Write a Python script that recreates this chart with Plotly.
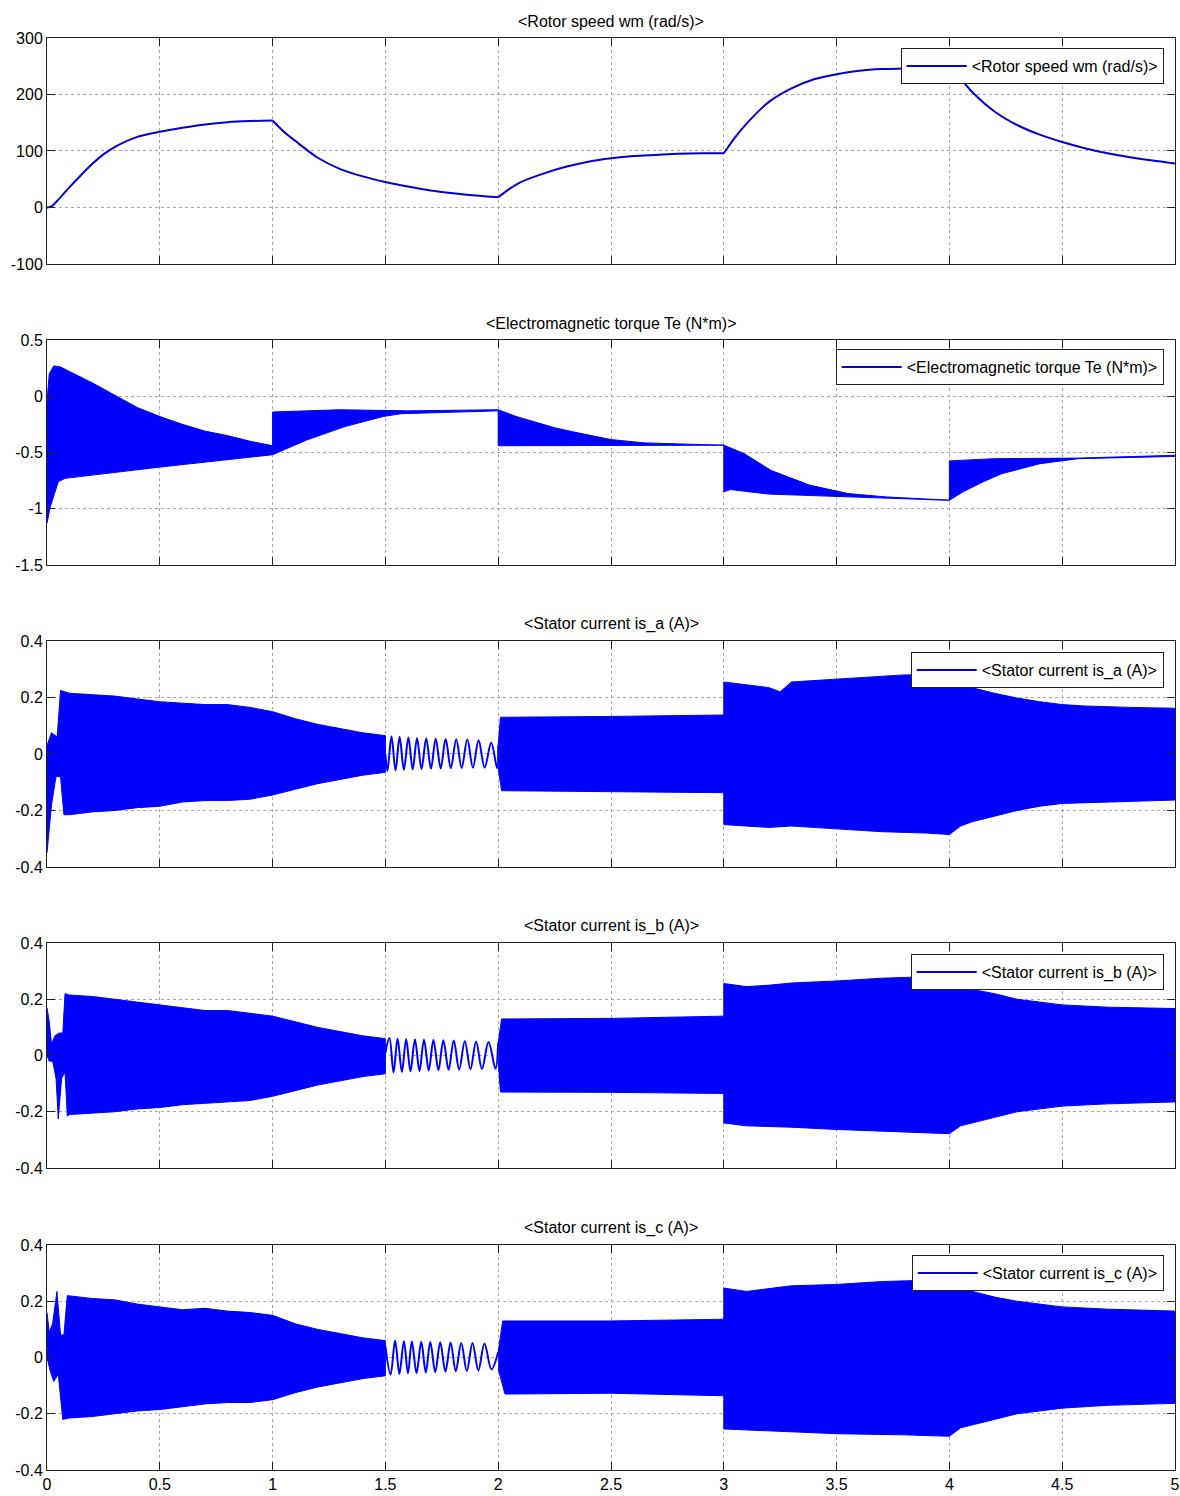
import plotly.graph_objects as go

# ---------------- data ----------------
x_ticks = [0, 0.5, 1, 1.5, 2, 2.5, 3, 3.5, 4, 4.5, 5]
x_tick_text = ["0", "0.5", "1", "1.5", "2", "2.5", "3", "3.5", "4", "4.5", "5"]

speed_ticks = [-100, 0, 100, 200, 300]
speed_tick_text = ["-100", "0", "100", "200", "300"]
torque_ticks = [-1.5, -1, -0.5, 0, 0.5]
torque_tick_text = ["-1.5", "-1", "-0.5", "0", "0.5"]
current_ticks = [-0.4, -0.2, 0, 0.2, 0.4]
current_tick_text = ["-0.4", "-0.2", "0", "0.2", "0.4"]

titles = ["<Rotor speed wm (rad/s)>", "<Electromagnetic torque Te (N*m)>",
          "<Stator current is_a (A)>", "<Stator current is_b (A)>", "<Stator current is_c (A)>"]

# load-step instants (where the rotor speed curve has corners)
step_times = [1.0, 2.0, 3.0, 4.0]

# Rotor speed
speed_t = [0, 0.02, 0.05, 0.1, 0.2, 0.25, 0.3, 0.4, 0.5, 0.6, 0.7, 0.8, 0.9, 1.0, 1.05, 1.1, 1.2, 1.3, 1.4, 1.5,
           1.6, 1.7, 1.8, 1.9, 2.0, 2.05, 2.1, 2.2, 2.3, 2.4, 2.5, 2.6, 2.7, 2.8, 2.9, 3.0, 3.05, 3.1, 3.2,
           3.3, 3.4, 3.5, 3.6, 3.7, 3.8, 3.9, 4.0, 4.05, 4.1, 4.2, 4.3, 4.4, 4.5, 4.6, 4.7, 4.8, 4.9, 5.0]
speed_v = [0, 2, 14, 36, 77, 94, 107, 125, 134, 141, 147, 151, 153, 154, 134, 118, 88, 68, 55, 45,
           37, 30, 25, 21, 18, 33, 45, 60, 72, 81, 87, 91, 93, 95, 96, 96, 124, 148, 187,
           211, 227, 236, 242, 245, 246, 247, 247, 228, 205, 170, 146, 129, 116, 105, 96, 89, 83, 78]

# Electromagnetic torque: upper / lower envelope of the dense band
tq_up_t = [0, 0.01, 0.03, 0.06, 0.1, 0.2, 0.3, 0.4, 0.5, 0.6, 0.7, 0.8, 0.9, 1.0, 1.0, 1.3, 1.6, 2.0,
           2.08, 2.17, 2.25, 2.34, 2.5, 2.65, 3.0, 3.09, 3.21, 3.38, 3.55, 3.72, 4.0, 4.0, 4.2, 4.57, 5.0]
tq_up_v = [-0.05, 0.2, 0.27, 0.26, 0.22, 0.12, 0.01, -0.1, -0.18, -0.25, -0.31, -0.35, -0.4, -0.44,
           -0.14, -0.12, -0.13, -0.12, -0.18, -0.23, -0.28, -0.32, -0.385, -0.415, -0.435, -0.51,
           -0.66, -0.79, -0.865, -0.895, -0.924, -0.575, -0.555, -0.55, -0.525]
tq_lo_t = [0, 0.015, 0.03, 0.05, 0.08, 0.5, 1.0, 1.15, 1.32, 1.49, 1.57, 2.0, 2.0, 2.5, 3.0, 3.0,
           3.03, 3.2, 3.5, 4.0, 4.06, 4.15, 4.23, 4.4, 4.57, 5.0]
tq_lo_v = [-1.13, -0.98, -0.88, -0.76, -0.73, -0.63, -0.52, -0.39, -0.27, -0.18, -0.155, -0.13,
           -0.44, -0.435, -0.435, -0.85, -0.83, -0.87, -0.89, -0.925, -0.85, -0.76, -0.69, -0.6,
           -0.555, -0.535]

# Stator current is_a
a1_up_t = [0, 0.02, 0.045, 0.06, 0.1, 0.2, 0.3, 0.4, 0.5, 0.6, 0.7, 0.8, 0.9, 1.0, 1.1, 1.2, 1.3, 1.4, 1.5]
a1_up_v = [0.03, 0.075, 0.06, 0.225, 0.215, 0.21, 0.205, 0.195, 0.185, 0.18, 0.175, 0.175, 0.165,
           0.15, 0.125, 0.105, 0.09, 0.075, 0.065]
a1_lo_t = [0, 0.02, 0.04, 0.06, 0.075, 0.1, 0.2, 0.3, 0.4, 0.5, 0.6, 0.7, 0.8, 0.9, 1.0, 1.1, 1.2,
           1.3, 1.4, 1.5]
a1_lo_v = [-0.35, -0.18, -0.08, -0.08, -0.215, -0.215, -0.205, -0.2, -0.19, -0.185, -0.17, -0.165,
           -0.165, -0.16, -0.145, -0.125, -0.105, -0.09, -0.075, -0.065]
a_osc_t = [1.500, 1.509, 1.527, 1.545, 1.563, 1.582, 1.602, 1.621, 1.640, 1.660, 1.681, 1.702, 1.723,
           1.745, 1.767, 1.790, 1.814, 1.838, 1.863, 1.888, 1.913, 1.940, 1.969, 1.995, 2.0]
a_osc_v = [0.0, -0.060, 0.062, -0.058, 0.060, -0.056, 0.058, -0.055, 0.056, -0.053, 0.055, -0.052,
           0.054, -0.051, 0.053, -0.050, 0.052, -0.049, 0.051, -0.048, 0.049, -0.048, 0.040, -0.050, 0.03]
a2_up_t = [2.0, 2.01, 2.5, 3.0, 3.0, 3.1, 3.2, 3.25, 3.3, 3.4, 3.5, 3.6, 3.7, 3.8, 4.0, 4.03, 4.1,
           4.2, 4.3, 4.4, 4.5, 4.6, 4.8, 5.0]
a2_up_v = [0.03, 0.13, 0.133, 0.138, 0.255, 0.245, 0.235, 0.22, 0.255, 0.26, 0.265, 0.27, 0.277,
           0.28, 0.28, 0.25, 0.235, 0.215, 0.198, 0.185, 0.175, 0.17, 0.165, 0.162]
a2_lo_t = [2.0, 2.015, 2.5, 3.0, 3.0, 3.1, 3.2, 3.3, 3.5, 3.7, 3.9, 4.0, 4.05, 4.1, 4.2, 4.3, 4.4,
           4.5, 4.7, 5.0]
a2_lo_v = [-0.05, -0.13, -0.133, -0.137, -0.25, -0.255, -0.26, -0.255, -0.265, -0.275, -0.28,
           -0.285, -0.255, -0.24, -0.22, -0.2, -0.185, -0.175, -0.17, -0.163]

# Stator current is_b
b1_up_t = [0, 0.01, 0.02, 0.035, 0.055, 0.07, 0.08, 0.1, 0.2, 0.3, 0.4, 0.5, 0.6, 0.7, 0.8, 0.9,
           1.0, 1.1, 1.2, 1.3, 1.4, 1.5]
b1_up_v = [0.17, 0.12, 0.04, 0.07, 0.08, 0.08, 0.22, 0.215, 0.21, 0.2, 0.19, 0.18, 0.17, 0.16,
           0.16, 0.15, 0.14, 0.12, 0.1, 0.085, 0.07, 0.06]
b1_lo_t = [0, 0.01, 0.025, 0.04, 0.05, 0.065, 0.08, 0.09, 0.1, 0.2, 0.3, 0.4, 0.5, 0.6, 0.7, 0.8,
           0.9, 1.0, 1.1, 1.2, 1.3, 1.4, 1.5]
b1_lo_v = [0.0, -0.02, -0.02, -0.08, -0.225, -0.08, -0.06, -0.215, -0.21, -0.205, -0.2, -0.19,
           -0.185, -0.175, -0.17, -0.165, -0.16, -0.145, -0.125, -0.105, -0.09, -0.075, -0.065]
b_osc_t = [1.500, 1.518, 1.536, 1.554, 1.573, 1.592, 1.611, 1.631, 1.651, 1.671, 1.692, 1.713,
           1.735, 1.757, 1.780, 1.803, 1.827, 1.852, 1.877, 1.902, 1.928, 1.957, 1.988, 2.0]
b_osc_v = [0.01, 0.062, -0.060, 0.060, -0.058, 0.058, -0.056, 0.057, -0.055, 0.056, -0.053, 0.055,
           -0.052, 0.054, -0.051, 0.053, -0.050, 0.052, -0.049, 0.050, -0.048, 0.048, -0.047, 0.045]
b2_up_t = [2.0, 2.015, 2.5, 3.0, 3.0, 3.1, 3.2, 3.3, 3.5, 3.7, 3.9, 4.0, 4.03, 4.1, 4.2, 4.3, 4.4,
           4.5, 4.7, 5.0]
b2_up_v = [0.045, 0.13, 0.132, 0.14, 0.256, 0.245, 0.25, 0.258, 0.265, 0.275, 0.28, 0.28, 0.25,
           0.235, 0.22, 0.2, 0.19, 0.18, 0.172, 0.167]
b2_lo_t = [2.0, 2.01, 2.5, 3.0, 3.0, 3.1, 3.3, 3.5, 3.7, 3.9, 4.0, 4.05, 4.1, 4.2, 4.3, 4.4, 4.5,
           4.7, 5.0]
b2_lo_v = [-0.02, -0.13, -0.131, -0.135, -0.24, -0.25, -0.255, -0.263, -0.27, -0.275, -0.278,
           -0.25, -0.24, -0.22, -0.2, -0.19, -0.18, -0.172, -0.165]

# Stator current is_c
c1_up_t = [0, 0.01, 0.025, 0.044, 0.06, 0.075, 0.09, 0.2, 0.3, 0.4, 0.5, 0.6, 0.7, 0.8, 0.9, 1.0,
           1.1, 1.2, 1.3, 1.4, 1.5]
c1_up_v = [0.16, 0.09, 0.12, 0.235, 0.08, 0.08, 0.22, 0.21, 0.205, 0.19, 0.18, 0.17, 0.175, 0.165,
           0.16, 0.15, 0.12, 0.1, 0.085, 0.07, 0.06]
c1_lo_t = [0, 0.015, 0.03, 0.05, 0.07, 0.1, 0.2, 0.3, 0.4, 0.5, 0.6, 0.7, 0.8, 0.9, 1.0, 1.1, 1.2,
           1.3, 1.4, 1.5]
c1_lo_v = [0.0, -0.05, -0.085, -0.06, -0.22, -0.215, -0.21, -0.2, -0.19, -0.185, -0.175, -0.165,
           -0.16, -0.16, -0.15, -0.125, -0.105, -0.09, -0.075, -0.065]
c_osc_t = [1.500, 1.523, 1.543, 1.562, 1.582, 1.600, 1.617, 1.638, 1.659, 1.679, 1.699, 1.721,
           1.743, 1.766, 1.789, 1.812, 1.836, 1.861, 1.886, 1.912, 1.939, 1.970, 2.0]
c_osc_v = [0.04, -0.060, 0.060, -0.058, 0.058, -0.056, 0.057, -0.055, 0.056, -0.053, 0.055, -0.052,
           0.054, -0.050, 0.053, -0.049, 0.052, -0.048, 0.052, -0.046, 0.050, -0.042, 0.02]
c2_up_t = [2.0, 2.02, 2.5, 3.0, 3.0, 3.1, 3.2, 3.3, 3.5, 3.7, 3.9, 4.0, 4.03, 4.1, 4.2, 4.3, 4.5,
           4.7, 5.0]
c2_up_v = [0.02, 0.13, 0.13, 0.136, 0.247, 0.235, 0.245, 0.255, 0.26, 0.27, 0.275, 0.275, 0.25,
           0.235, 0.215, 0.2, 0.18, 0.172, 0.165]
c2_lo_t = [2.0, 2.03, 2.5, 3.0, 3.0, 3.2, 3.5, 3.8, 4.0, 4.05, 4.1, 4.2, 4.3, 4.5, 4.7, 5.0]
c2_lo_v = [-0.04, -0.13, -0.127, -0.136, -0.254, -0.26, -0.271, -0.275, -0.28, -0.25, -0.24,
           -0.22, -0.2, -0.18, -0.17, -0.163]

# ---------------- styling ----------------
FILL = "rgb(0,0,255)"
LINE = "rgb(0,0,215)"
FONT = "Liberation Sans, Arial, sans-serif"
FS = 16

domains = [[0.8422, 1.0], [0.632, 0.7891], [0.4211, 0.5789], [0.2109, 0.368], [0.0, 0.1571]]
legend_tops = [0.993, 0.7828, 0.5712, 0.3603, 0.1501]

fig = go.Figure()


def ax(k):
    return ("x" + ("" if k == 1 else str(k)), "y" + ("" if k == 1 else str(k)))


def band(up_t, up_v, lo_t, lo_v, k):
    xs = list(up_t) + list(lo_t)[::-1]
    ys = list(up_v) + list(lo_v)[::-1]
    xa, ya = ax(k)
    fig.add_trace(go.Scatter(x=xs, y=ys, fill="toself", fillcolor=FILL, mode="lines",
                             line=dict(color=FILL, width=1), showlegend=False, hoverinfo="skip",
                             xaxis=xa, yaxis=ya))


def legend_entry(name, k):
    xa, ya = ax(k)
    fig.add_trace(go.Scatter(x=[None], y=[None], mode="lines", line=dict(color=LINE, width=2),
                             name=name, xaxis=xa, yaxis=ya,
                             legend="legend" + ("" if k == 1 else str(k))))


# panel 1: rotor speed, drawn piecewise between load steps so the corners stay sharp
bounds = [0.0] + step_times + [5.0]
for j in range(len(bounds) - 1):
    lo, hi = bounds[j], bounds[j + 1]
    idx = [i for i, t in enumerate(speed_t) if lo <= t <= hi]
    fig.add_trace(go.Scatter(x=[speed_t[i] for i in idx], y=[speed_v[i] for i in idx], mode="lines",
                             line=dict(color=LINE, width=2, shape="spline", smoothing=0.8),
                             showlegend=False, hoverinfo="skip", xaxis="x", yaxis="y"))
legend_entry(titles[0], 1)

# panel 2: torque
band(tq_up_t, tq_up_v, tq_lo_t, tq_lo_v, 2)
legend_entry(titles[1], 2)

# panels 3-5: currents
currents = [
    (a1_up_t, a1_up_v, a1_lo_t, a1_lo_v, a_osc_t, a_osc_v, a2_up_t, a2_up_v, a2_lo_t, a2_lo_v),
    (b1_up_t, b1_up_v, b1_lo_t, b1_lo_v, b_osc_t, b_osc_v, b2_up_t, b2_up_v, b2_lo_t, b2_lo_v),
    (c1_up_t, c1_up_v, c1_lo_t, c1_lo_v, c_osc_t, c_osc_v, c2_up_t, c2_up_v, c2_lo_t, c2_lo_v),
]
for i, cur in enumerate(currents):
    k = i + 3
    u1t, u1v, l1t, l1v, ot, ov, u2t, u2v, l2t, l2v = cur
    band(u1t, u1v, l1t, l1v, k)
    xa, ya = ax(k)
    fig.add_trace(go.Scatter(x=ot, y=ov, mode="lines", line=dict(color=FILL, width=2, shape="spline"),
                             showlegend=False, hoverinfo="skip", xaxis=xa, yaxis=ya))
    band(u2t, u2v, l2t, l2v, k)
    legend_entry(titles[k - 1], k)

y_specs = [
    ([-100, 300], speed_ticks, speed_tick_text),
    ([-1.5, 0.5], torque_ticks, torque_tick_text),
    ([-0.4, 0.4], current_ticks, current_tick_text),
    ([-0.4, 0.4], current_ticks, current_tick_text),
    ([-0.4, 0.4], current_ticks, current_tick_text),
]

layout = dict(
    width=1180, height=1496,
    margin=dict(l=47, r=5, t=38, b=26),
    paper_bgcolor="white", plot_bgcolor="white",
    template="none",
    font=dict(family=FONT, size=FS, color="black"),
    annotations=[],
)

for k in range(1, 6):
    sx = "" if k == 1 else str(k)
    rng, tv, tt = y_specs[k - 1]
    layout["xaxis" + sx] = dict(
        domain=[0, 1], anchor="y" + sx, range=[0, 5],
        tickmode="array", tickvals=x_ticks, ticktext=x_tick_text,
        showticklabels=(k == 5), ticklabeloverflow="allow",
        ticks="inside", ticklen=8, tickcolor="#222", tickwidth=1,
        showline=True, linecolor="#222", linewidth=1, mirror="ticks",
        showgrid=True, gridcolor="#a8a8a8", griddash="dot", gridwidth=1,
        zeroline=False, tickfont=dict(family=FONT, size=FS, color="black"),
    )
    layout["yaxis" + sx] = dict(
        domain=domains[k - 1], anchor="x" + sx, range=rng,
        tickmode="array", tickvals=tv, ticktext=tt,
        ticks="inside", ticklen=8, tickcolor="#222", tickwidth=1,
        showline=True, linecolor="#222", linewidth=1, mirror="ticks",
        showgrid=True, gridcolor="#a8a8a8", griddash="dot", gridwidth=1,
        zeroline=False, tickfont=dict(family=FONT, size=FS, color="black"),
    )
    layout["legend" + sx] = dict(
        x=0.990, y=legend_tops[k - 1], xanchor="right", yanchor="top",
        xref="paper", yref="paper",
        bgcolor="white", bordercolor="#222", borderwidth=1, itemwidth=60,
        font=dict(family=FONT, size=FS, color="black"),
    )
    layout["annotations"].append(dict(
        text=titles[k - 1].replace("<", "&lt;").replace(">", "&gt;"),
        x=0.5, y=domains[k - 1][1], xref="paper", yref="paper",
        xanchor="center", yanchor="bottom", yshift=6, showarrow=False,
        font=dict(family=FONT, size=FS, color="black"),
    ))

fig.update_layout(**layout)
fig.write_html("out.html", config={"displayModeBar": False},
               post_script="document.body.style.margin='0';document.body.style.padding='0';")
